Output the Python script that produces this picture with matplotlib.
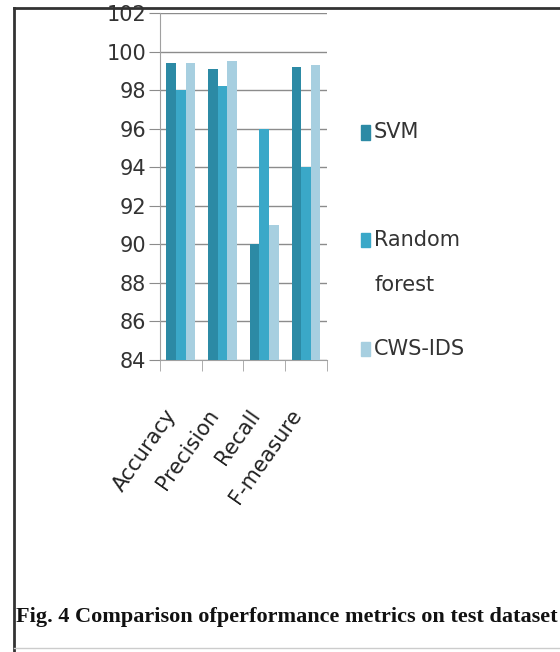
#Grouped bar chart - performance metrics comparison
import numpy as np
import matplotlib.pyplot as plt
from matplotlib.patches import Rectangle
from matplotlib.lines import Line2D

# Data
metrics = ['Accuracy', 'Precision', 'Recall', 'F-measure']
svm = [99.4, 99.1, 90.0, 99.2]
random_forest = [98.0, 98.2, 96.0, 94.0]
cws_ids = [99.4, 99.5, 91.0, 99.3]
series_names = ['SVM', 'Random\nforest', 'CWS-IDS']
colors = ['#2c8aa5', '#3aa8c8', '#a7cfe0']

label_font = ['DejaVu Sans']

fig = plt.figure(figsize=(5.6, 6.52), dpi=100)
ax = fig.add_axes([0.2857, 0.448, 0.298, 0.532])

x = np.arange(len(metrics))
w = 0.23
for i, vals in enumerate([svm, random_forest, cws_ids]):
    ax.bar(x + (i - 1) * w, np.array(vals) - 84, w, bottom=84, color=colors[i], zorder=3)

ax.set_ylim(84, 102)
ax.set_xlim(-0.5, 3.5)
ax.set_yticks(np.arange(84, 103, 2))
ax.yaxis.grid(True, color='#8c8c8c', linewidth=1.0, zorder=0)
ax.set_axisbelow(True)
for s in ['top', 'right']:
    ax.spines[s].set_visible(False)
for s in ['left', 'bottom']:
    ax.spines[s].set_color('#a0a0a0')
ax.tick_params(axis='y', length=8, color='#8c8c8c', labelsize=15, labelcolor='#333333', pad=2)
for t in ax.get_yticklabels():
    t.set_family(label_font)

# category labels at centres, tick marks between groups
ax.set_xticks(x)
ax.set_xticklabels(metrics, rotation=55, ha='right', fontsize=15, color='#222222')
for t in ax.get_xticklabels():
    t.set_family(label_font)
ax.tick_params(axis='x', length=0, pad=33)
ax.set_xticks(np.arange(-0.5, 4, 1), minor=True)
ax.tick_params(axis='x', which='minor', length=8, color='#a0a0a0')

# legend drawn to match the original spacing
legend_rows = [(0.797, 'SVM'), (0.632, 'Random'), (0.465, 'CWS-IDS')]
for (yy, txt), c in zip(legend_rows, colors):
    fig.patches.append(Rectangle((0.645, yy - 0.011), 0.016, 0.022, transform=fig.transFigure,
                                 color=c, figure=fig))
    fig.text(0.668, yy, txt, fontsize=15, color='#333333', va='center', family=label_font)
fig.text(0.668, 0.563, 'forest', fontsize=15, color='#333333', va='center', family=label_font)

# caption and frame
fig.text(0.028, 0.046, 'Fig. 4 Comparison ofperformance metrics on test dataset',
         fontsize=16, fontweight='bold', family='Liberation Serif', color='#111111', va='baseline')
fig.add_artist(Line2D([0.025, 1.0], [0.987, 0.987], color='#333333', linewidth=2))
fig.add_artist(Line2D([0.025, 0.025], [0.0, 0.987], color='#333333', linewidth=2))
fig.add_artist(Line2D([0.025, 1.0], [0.006, 0.006], color='#cccccc', linewidth=1))

plt.savefig('out.png', dpi=100)
